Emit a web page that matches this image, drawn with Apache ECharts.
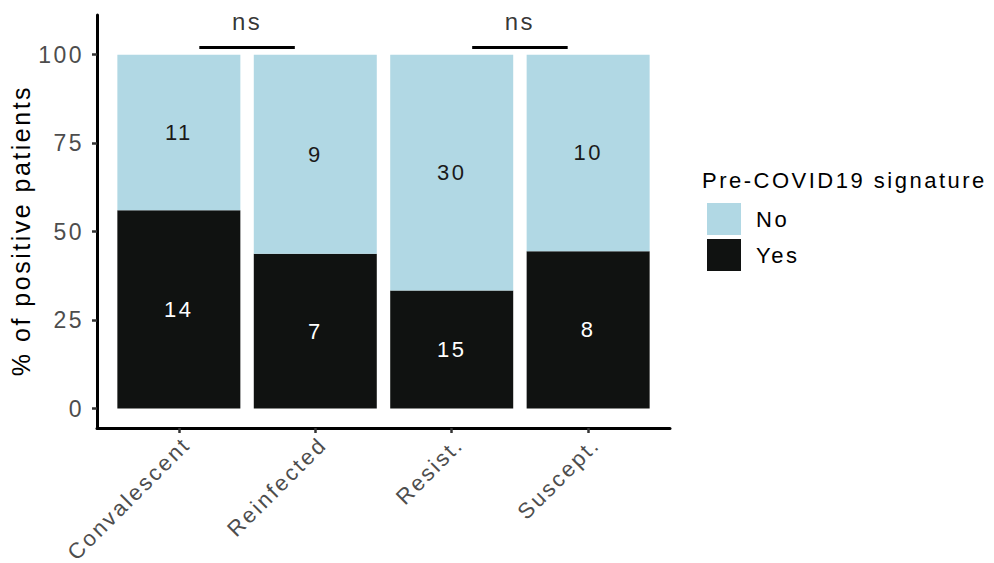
<!DOCTYPE html>
<html>
<head>
<meta charset="utf-8">
<script src="https://cdn.jsdelivr.net/npm/echarts@6/dist/echarts.min.js"></script>
<style>
  html, body { margin: 0; padding: 0; background: #fff; }
  #chart { width: 994px; height: 563px; letter-spacing: 2.5px; }
</style>
</head>
<body>
<div id="chart"></div>
<script>
// Patient groups and the number of patients with / without the signature
const categories = ['Convalescent', 'Reinfected', 'Resist.', 'Suscept.'];
const yesCounts = [14, 7, 15, 8];
const noCounts = [11, 9, 30, 10];
const yTicks = [0, 25, 50, 75, 100];
// Pairwise tests drawn above the bars: [group A, group B, result]
const comparisons = [[1, 2, 'ns'], [3, 4, 'ns']];

const FONT = '"Liberation Sans", Arial, Helvetica, sans-serif';
const BLUE = '#b1d8e4';
const BLACK = '#101211';

const totals = yesCounts.map((y, i) => y + noCounts[i]);
const yesPct = yesCounts.map((y, i) => y / totals[i] * 100);
const noPct = noCounts.map((n, i) => n / totals[i] * 100);
const xPos = categories.map((c, i) => i + 1);

// Panel layout: the outer panel carries the visible axes (discrete range
// padded by 0.6 of a category on each side); the inner one holds the bars.
const PANEL = { left: 97, right: 324, top: 15, bottom: 135 };
const X_MIN = 0.4, X_MAX = 4.6;
const Y_MIN = -5.5, Y_MAX = 111.2;
const chartW = 994;
const unit = (chartW - PANEL.left - PANEL.right) / (X_MAX - X_MIN);
const inner = {
  left: PANEL.left + (0.5 - X_MIN) * unit,
  right: PANEL.right + (X_MAX - (categories.length + 0.5)) * unit,
  top: PANEL.top, bottom: PANEL.bottom
};

const BRACKET_Y = 102;
const BRACKET_TEXT_Y = 109.4;
const INSET = 0.15;

const bracketSeries = [];
comparisons.forEach(([a, b, txt], k) => {
  bracketSeries.push({
    type: 'line',
    name: 'bracket' + k,
    xAxisIndex: 0, yAxisIndex: 0,
    silent: true,
    symbol: 'none',
    lineStyle: { color: '#000', width: 3 },
    data: [[a + INSET, BRACKET_Y], [b - INSET, BRACKET_Y]],
    z: 5
  });
  bracketSeries.push({
    type: 'scatter',
    name: 'sig' + k,
    xAxisIndex: 0, yAxisIndex: 0,
    silent: true,
    symbolSize: 0,
    data: [[(a + b) / 2, BRACKET_TEXT_Y]],
    label: {
      show: true, position: 'inside', formatter: txt,
      fontFamily: FONT, fontSize: 24, color: '#000'
    }
  });
});

const chart = echarts.init(document.getElementById('chart'), null, { renderer: 'svg' });

const barLabel = (counts, color) => ({
  show: true, position: 'inside',
  formatter: p => String(counts[p.dataIndex]),
  fontFamily: FONT, fontSize: 22, color: color
});

chart.setOption({
  animation: false,
  backgroundColor: '#fff',
  textStyle: { fontFamily: FONT },
  title: {
    text: 'Pre-COVID19 signature',
    left: 697, top: 164,
    textStyle: { fontFamily: FONT, fontSize: 22, fontWeight: 'normal', color: '#000' }
  },
  legend: {
    data: ['No', 'Yes'],
    orient: 'vertical',
    left: 702, top: 198,
    itemWidth: 34, itemHeight: 32, itemGap: 4,
    icon: 'rect',
    textStyle: { fontFamily: FONT, fontSize: 22, color: '#000', padding: [0, 0, 0, 10] }
  },
  grid: [
    { left: PANEL.left, right: PANEL.right, top: PANEL.top, bottom: PANEL.bottom },
    { left: inner.left, right: inner.right, top: inner.top, bottom: inner.bottom }
  ],
  xAxis: [
    {
      gridIndex: 0,
      type: 'value',
      min: X_MIN, max: X_MAX,
      axisLine: { show: true, onZero: false, lineStyle: { color: '#000', width: 3 } },
      axisTick: { show: true, customValues: xPos, length: 5, lineStyle: { color: '#333', width: 2.5 } },
      axisLabel: {
        customValues: xPos,
        formatter: v => categories[Math.round(v) - 1],
        rotate: 45, margin: 5,
        align: 'right', verticalAlign: 'top',
        fontFamily: FONT, fontSize: 22, color: '#4d4d4d'
      },
      splitLine: { show: false }
    },
    {
      gridIndex: 1,
      type: 'category',
      data: categories,
      boundaryGap: true,
      show: false
    }
  ],
  yAxis: [
    {
      gridIndex: 0,
      type: 'value',
      min: Y_MIN, max: Y_MAX,
      name: '% of positive patients',
      nameLocation: 'middle',
      nameGap: 64,
      nameTextStyle: { fontFamily: FONT, fontSize: 25, color: '#000', padding: [0, 18, 0, 0] },
      axisLine: { show: true, onZero: false, lineStyle: { color: '#000', width: 3 } },
      axisTick: { show: true, customValues: yTicks, length: 5, lineStyle: { color: '#333', width: 2.5 } },
      axisLabel: {
        customValues: yTicks, margin: 13,
        fontFamily: FONT, fontSize: 23, color: '#4d4d4d'
      },
      splitLine: { show: false }
    },
    {
      gridIndex: 1,
      type: 'value',
      min: Y_MIN, max: Y_MAX,
      show: false
    }
  ],
  series: [
    {
      name: 'Yes', type: 'bar', stack: 'pct', barWidth: 123,
      xAxisIndex: 1, yAxisIndex: 1,
      itemStyle: { color: BLACK },
      data: yesPct,
      label: barLabel(yesCounts, '#fff')
    },
    {
      name: 'No', type: 'bar', stack: 'pct', barWidth: 123,
      xAxisIndex: 1, yAxisIndex: 1,
      itemStyle: { color: BLUE },
      data: noPct,
      label: barLabel(noCounts, '#1a1a1a')
    },
    ...bracketSeries
  ]
});
</script>
</body>
</html>
